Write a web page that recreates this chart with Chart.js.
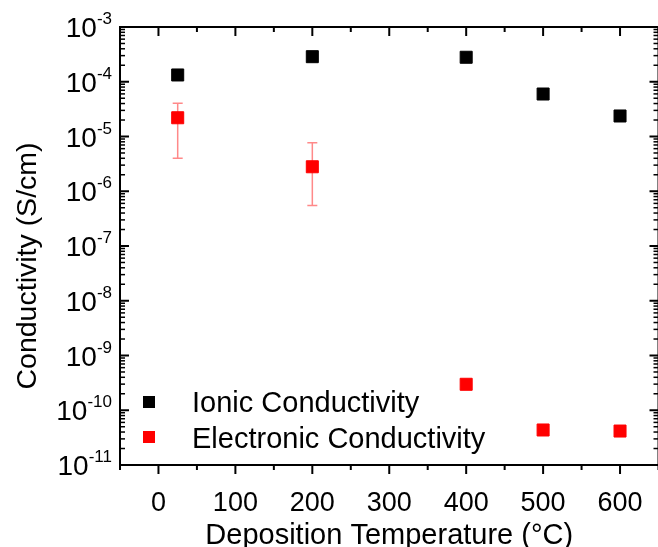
<!DOCTYPE html>
<html><head><meta charset="utf-8">
<script src="https://cdn.jsdelivr.net/npm/chart.js@4.4.1/dist/chart.umd.min.js"></script>
<style>html,body{margin:0;padding:0;background:#fff}#wrap{width:658px;height:547px;overflow:hidden;position:relative}canvas{display:block;position:absolute;left:0;top:0;width:668px;height:547px}</style>
</head><body><div id="wrap"><canvas id="c" width="668" height="547" style="width:668px;height:547px"></canvas></div>
<script>
// ---- data ----
const temperatures = [25, 200, 400, 500, 600];
const ionicConductivity = [1.33e-4, 2.87e-4, 2.8e-4, 5.97e-5, 2.37e-5];
const electronicConductivity = [2.2e-5, 2.8e-6, 2.98e-10, 4.36e-11, 4.17e-11];
const electronicErrHigh = [4.04e-5, 7.7e-6, null, null, null];
const electronicErrLow = [4.0e-6, 5.5e-7, null, null, null];
const seriesLabels = ['Ionic Conductivity', 'Electronic Conductivity'];
const xMajorTicks = [0, 100, 200, 300, 400, 500, 600];
const xMinorTicks = [-50, 50, 150, 250, 350, 450, 550, 650];
const yDecades = [-11, -10, -9, -8, -7, -6, -5, -4, -3];
const xTitle = 'Deposition Temperature (°C)';
const yTitle = 'Conductivity (S/cm)';

const FONT = '"Liberation Sans", Arial, Helvetica, sans-serif';
const colors = ['#000000', '#ff0000'];

const errorBarPlugin = {
  id: 'errorBars',
  beforeDatasetsDraw(chart) {
    const {ctx, scales: {x, y}} = chart;
    ctx.save();
    ctx.strokeStyle = 'rgba(255,40,40,0.55)';
    ctx.lineWidth = 1.5;
    temperatures.forEach((t, i) => {
      if (electronicErrHigh[i] == null) return;
      const px = x.getPixelForValue(t);
      const yh = y.getPixelForValue(electronicErrHigh[i]);
      const yl = y.getPixelForValue(electronicErrLow[i]);
      ctx.beginPath();
      ctx.moveTo(px, yh); ctx.lineTo(px, yl);
      ctx.moveTo(px - 5, yh); ctx.lineTo(px + 5, yh);
      ctx.moveTo(px - 5, yl); ctx.lineTo(px + 5, yl);
      ctx.stroke();
    });
    ctx.restore();
  }
};

const framePlugin = {
  id: 'frame',
  afterDraw(chart) {
    const {ctx, chartArea: a, scales: {x, y}} = chart;
    ctx.save();
    ctx.strokeStyle = '#000';
    ctx.lineWidth = 2;
    const line = (x1, y1, x2, y2) => { ctx.beginPath(); ctx.moveTo(x1, y1); ctx.lineTo(x2, y2); ctx.stroke(); };
    ctx.strokeRect(a.left, a.top, a.right - a.left, a.bottom - a.top);
    // x ticks
    xMajorTicks.forEach(v => {
      const px = x.getPixelForValue(v);
      line(px, a.bottom, px, a.bottom + 9);
      line(px, a.top, px, a.top + 9);
    });
    xMinorTicks.forEach(v => {
      const px = x.getPixelForValue(v);
      line(px, a.bottom, px, a.bottom + 5);
      line(px, a.top, px, a.top + 5);
    });
    // y ticks
    yDecades.forEach(e => {
      for (let m = 1; m <= 9; m++) {
        if (e === yDecades[yDecades.length - 1] && m > 1) break;
        const py = y.getPixelForValue(m * Math.pow(10, e));
        const len = m === 1 ? 9 : 5;
        ctx.lineWidth = m === 1 ? 2 : 1.5;
        line(a.left, py, a.left + len, py);
        line(a.right, py, a.right - len, py);
      }
    });
    // y labels with superscript
    ctx.fillStyle = '#000';
    ctx.textAlign = 'right';
    ctx.textBaseline = 'alphabetic';
    yDecades.forEach(e => {
      const py = y.getPixelForValue(Math.pow(10, e));
      const sup = '-' + Math.abs(e);
      ctx.font = '17px ' + FONT;
      const supW = ctx.measureText(sup).width;
      ctx.fillText(sup, a.left - 8, py - 3);
      ctx.font = '28px ' + FONT;
      ctx.fillText('10', a.left - 8 - supW, py + 10);
    });
    // axis titles
    ctx.textAlign = 'center';
    ctx.font = '29px ' + FONT;
    ctx.fillText(xTitle, (a.left + a.right) / 2, 544);
    ctx.save();
    ctx.translate(36, 266);
    ctx.rotate(-Math.PI / 2);
    ctx.font = '28.5px ' + FONT;
    ctx.fillText(yTitle, 0, 0);
    ctx.restore();
    // legend
    const rows = [{sq: 402, base: 412}, {sq: 437, base: 448}];
    ctx.textAlign = 'left';
    ctx.font = '29px ' + FONT;
    seriesLabels.forEach((lab, i) => {
      ctx.fillStyle = colors[i];
      ctx.fillRect(143, rows[i].sq - 6, 12, 12);
      ctx.fillStyle = '#000';
      ctx.fillText(lab, 192, rows[i].base);
    });
    ctx.restore();
  }
};

new Chart(document.getElementById('c'), {
  type: 'scatter',
  data: {
    datasets: [
      {
        label: seriesLabels[0],
        data: temperatures.map((t, i) => ({x: t, y: ionicConductivity[i]})),
        backgroundColor: colors[0], borderColor: colors[0],
        pointStyle: 'rect', pointRadius: 8.5, borderWidth: 1
      },
      {
        label: seriesLabels[1],
        data: temperatures.map((t, i) => ({x: t, y: electronicConductivity[i]})),
        backgroundColor: colors[1], borderColor: colors[1],
        pointStyle: 'rect', pointRadius: 8.5, borderWidth: 1
      }
    ]
  },
  options: {
    responsive: false,
    animation: false,
    devicePixelRatio: 1,
    layout: {padding: {left: 0, top: 27, right: 3, bottom: 0}},
    plugins: {legend: {display: false}, tooltip: {enabled: false}},
    scales: {
      x: {
        type: 'linear', min: -50, max: 650,
        afterBuildTicks: s => { s.ticks = xMajorTicks.map(v => ({value: v})); },
        afterFit: s => { s.height = 82; s.paddingLeft = 0; s.paddingRight = 0; },
        grid: {display: false}, border: {display: false},
        ticks: {color: '#000', font: {family: FONT, size: 27}, padding: 14, maxRotation: 0, autoSkip: false}
      },
      y: {
        type: 'logarithmic', min: 1e-11, max: 1e-3,
        afterFit: s => { s.width = 120; s.paddingTop = 0; s.paddingBottom = 0; },
        grid: {display: false}, border: {display: false},
        ticks: {display: false}
      }
    }
  },
  plugins: [errorBarPlugin, framePlugin]
});
</script>
</body></html>
